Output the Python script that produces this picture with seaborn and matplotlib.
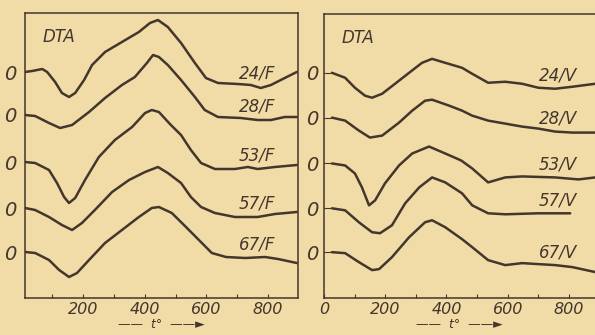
import matplotlib
matplotlib.use("Agg")
import numpy as np
import pandas as pd
import matplotlib.pyplot as plt
import seaborn as sns

# DTA curves, temperature (deg C) and deflection (arbitrary units)
f_names = ['24/F', '28/F', '53/F', '57/F', '67/F']
f_base = [226, 183, 136, 90, 46]
f24_t = [11, 34, 67, 83, 109, 131, 154, 174, 203, 229, 271, 326, 381, 417, 443, 475, 518, 563, 599, 638, 703, 745, 777, 810, 855, 894]
f24_d = [0, 1, 3, 0, -10, -21, -25, -21, -8, 7, 20, 30, 40, 49, 52, 45, 29, 9, -6, -11, -12, -13, -16, -13, -6, 0]
f28_t = [11, 44, 89, 125, 164, 219, 271, 326, 368, 407, 427, 446, 475, 518, 563, 595, 638, 712, 767, 810, 855, 894]
f28_d = [0, -1, -8, -13, -10, 3, 17, 30, 38, 52, 60, 58, 50, 35, 18, 5, -2, -3, -5, -5, -2, -2]
f53_t = [11, 44, 89, 115, 138, 154, 174, 206, 251, 303, 359, 401, 423, 446, 485, 518, 550, 583, 628, 693, 735, 767, 823, 894]
f53_d = [0, -1, -8, -21, -35, -41, -36, -18, 5, 22, 35, 49, 52, 50, 37, 27, 12, -1, -7, -7, -5, -7, -5, -3]
f57_t = [11, 44, 89, 131, 164, 196, 238, 294, 349, 401, 443, 475, 518, 550, 583, 628, 693, 767, 823, 894]
f57_d = [0, -2, -9, -17, -22, -15, -2, 16, 28, 36, 41, 35, 25, 11, 1, -5, -9, -9, -6, -4]
f67_t = [11, 44, 89, 122, 154, 180, 219, 271, 326, 381, 423, 446, 488, 534, 576, 618, 664, 726, 791, 833, 894]
f67_d = [0, -1, -8, -18, -25, -21, -8, 9, 22, 35, 44, 45, 39, 25, 12, -1, -5, -6, -5, -7, -11]

v_names = ['24/V', '28/V', '53/V', '57/V', '67/V']
v_base = [226, 181, 135, 90, 46]
v24_t = [26, 69, 101, 134, 157, 190, 232, 278, 320, 353, 396, 451, 484, 536, 592, 647, 700, 755, 811, 886]
v24_d = [0, -5, -15, -23, -25, -21, -11, 0, 10, 14, 10, 5, -1, -10, -9, -11, -15, -16, -14, -11]
v28_t = [26, 69, 114, 150, 190, 245, 288, 330, 353, 409, 451, 484, 536, 592, 647, 700, 755, 811, 886]
v28_d = [0, -3, -13, -20, -18, -5, 7, 17, 18, 12, 7, 2, -3, -6, -9, -11, -14, -15, -15]
v53_t = [26, 69, 101, 124, 147, 167, 199, 245, 288, 343, 396, 448, 484, 536, 592, 647, 755, 831, 886]
v53_d = [0, -2, -10, -24, -42, -37, -20, -2, 10, 17, 10, 3, -5, -19, -14, -13, -14, -16, -14]
v57_t = [26, 69, 114, 157, 183, 222, 265, 311, 353, 396, 451, 484, 536, 592, 700, 804]
v57_d = [0, -2, -14, -24, -25, -17, 5, 21, 31, 26, 15, 3, -5, -6, -5, -5]
v67_t = [26, 69, 114, 157, 180, 222, 278, 330, 353, 396, 451, 484, 536, 592, 647, 700, 755, 811, 886]
v67_d = [0, -1, -10, -18, -17, -5, 15, 30, 32, 25, 13, 5, -8, -13, -11, -12, -13, -15, -20]

f_curves = [(f24_t, f24_d), (f28_t, f28_d), (f53_t, f53_d), (f57_t, f57_d), (f67_t, f67_d)]
v_curves = [(v24_t, v24_d), (v28_t, v28_d), (v53_t, v53_d), (v57_t, v57_d), (v67_t, v67_d)]

paper = '#f1dca8'
ink = '#43362c'

sns.set_style("ticks")
plt.rcParams['font.family'] = ['Liberation Sans Narrow', 'DejaVu Sans']
plt.rcParams['font.style'] = 'italic'

fig = plt.figure(figsize=(5.95, 3.35), dpi=100, facecolor=paper)
ax1 = fig.add_axes([25/595, 37/335, 273/595, 285/335])
ax2 = fig.add_axes([324/595, 37/335, 271/595, 284/335])

def draw_panel(ax, names, bases, curves, xlim, xticks, ytick_style):
    ax.set_facecolor(paper)
    for name, base, (t, d) in zip(names, bases, curves):
        df = pd.DataFrame({'T': t, 'y': np.array(d) + base})
        sns.lineplot(data=df, x='T', y='y', ax=ax, color=ink, lw=1.8,
                     sort=False, estimator=None, solid_joinstyle='round',
                     solid_capstyle='round')
        # curve name sits a little above the curve near 765 deg
        ly = np.interp(765, t, d) + base + 13
        ax.text(765, ly, name, fontsize=12, color=ink, ha='center', va='center',
                style='italic')
    ax.set_xlim(*xlim)
    ax.set_ylim(0, 285)
    ax.set_xticks(xticks, labels=[str(v) for v in xticks])
    ax.set_xticks(np.arange(100, 900, 100), minor=True)
    ax.set_yticks(bases, labels=['0'] * len(bases))
    ax.tick_params(axis='x', which='both', direction='in', length=3, width=0.8,
                   colors=ink, labelsize=11.5, pad=3)
    ax.tick_params(axis='y', direction='in', length=ytick_style[0], width=0.8,
                   colors=ink, labelsize=14, pad=ytick_style[1])
    for sp in ax.spines.values():
        sp.set_color(ink)
        sp.set_linewidth(1.1)
    ax.set_xlabel('——  t°  ——►', fontsize=9, color=ink, labelpad=0.5)
    ax.set_ylabel('')
    ax.text(0.065, 0.915, 'DTA', transform=ax.transAxes,
            fontsize=12, color=ink, style='italic', ha='left', va='center')

draw_panel(ax1, f_names, f_base, f_curves, (11, 898), [200, 400, 600, 800], (0, 6))
draw_panel(ax2, v_names, v_base, v_curves, (0, 885), [0, 200, 400, 600, 800], (5, 4))
ax2.spines['right'].set_visible(False)

fig.savefig('out.png', dpi=100, facecolor=paper)
